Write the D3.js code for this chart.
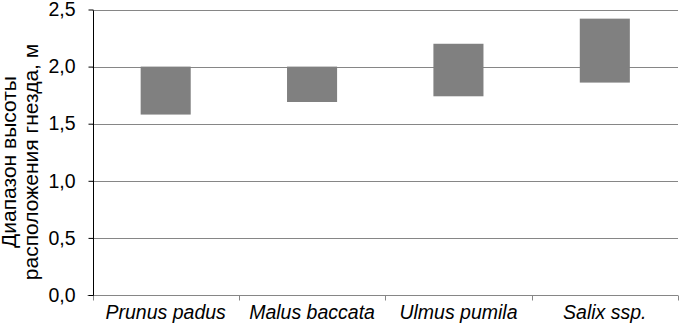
<!DOCTYPE html>
<html>
<head>
<meta charset="utf-8">
<script src="https://cdn.jsdelivr.net/npm/d3@7"></script>
<style>
  html, body { margin: 0; padding: 0; background: #fff; }
  svg { display: block; }
  text { font-family: "Liberation Sans", Arial, sans-serif; }
</style>
</head>
<body>
<svg id="chart" width="679" height="325"></svg>
<script>
const categories = ["Prunus padus", "Malus baccata", "Ulmus pumila", "Salix ssp."];
const lowValues  = [1.58, 1.69, 1.74, 1.86];
const highValues = [2.00, 2.00, 2.20, 2.42];
const yTicks = [0, 0.5, 1.0, 1.5, 2.0, 2.5];
const yTitleLines = ["Диапазон высоты", "расположения гнезда, м"];

const svg = d3.select("#chart");
const mLeft = 92.5, mRight = 678, mTop = 9.5, mBottom = 295;

const x = d3.scaleBand().domain(categories).range([mLeft, mRight]).padding(0);
const y = d3.scaleLinear().domain([0, 2.5]).range([mBottom, mTop]);

const fmt = d => d3.format(".1f")(d).replace(".", ",");

// gridlines
svg.append("g").selectAll("line").data(yTicks.filter(d => d > 0)).join("line")
  .attr("x1", mLeft).attr("x2", mRight)
  .attr("y1", d => Math.round(y(d)) + 0.5).attr("y2", d => Math.round(y(d)) + 0.5)
  .attr("stroke", "#868686").attr("stroke-width", 1);

// bars
const data = categories.map((c, i) => ({c, lo: lowValues[i], hi: highValues[i]}));
const bw = x.bandwidth() * 0.342;
svg.append("g").selectAll("rect").data(data).join("rect")
  .attr("x", d => x(d.c) + x.bandwidth() / 2 - bw / 2)
  .attr("width", bw)
  .attr("y", d => y(d.hi))
  .attr("height", d => y(d.lo) - y(d.hi))
  .attr("fill", "#808080");

// x axis
const xAxis = svg.append("g").attr("transform", `translate(0,${Math.round(mBottom) + 0.5})`);
xAxis.append("line").attr("x1", mLeft - 5).attr("x2", mRight).attr("stroke", "#868686");
const bounds = categories.map(c => x(c)).concat([mRight]);
xAxis.selectAll("line.tk").data(bounds).join("line").attr("class", "tk")
  .attr("x1", d => Math.round(d) + 0.5).attr("x2", d => Math.round(d) + 0.5)
  .attr("y1", 0).attr("y2", 5).attr("stroke", "#868686");
xAxis.selectAll("text").data(categories).join("text")
  .attr("x", d => x(d) + x.bandwidth() / 2)
  .attr("y", 23)
  .attr("text-anchor", "middle")
  .attr("font-size", 19.5)
  .attr("font-style", "italic")
  .attr("fill", "#000")
  .text(d => d);

// y axis
const yAxis = d3.axisLeft(y).tickValues(yTicks).tickFormat(fmt).tickSize(5).tickPadding(13);
const gy = svg.append("g").attr("transform", `translate(${Math.round(mLeft) + 0.5},0)`).call(yAxis);
gy.select(".domain").attr("stroke", "#000").attr("d", `M0,${Math.round(mTop)+0.5}V${Math.round(mBottom)+0.5}`);
gy.selectAll(".tick line").attr("stroke", "#000");
gy.selectAll(".tick text").attr("font-size", 19.5).attr("fill", "#000")
  .attr("font-family", "Liberation Sans, Arial, sans-serif");

// y title
const cy = 162;
svg.append("text")
  .attr("transform", `translate(16,${cy}) rotate(-90)`)
  .attr("text-anchor", "middle").attr("font-size", 21).attr("fill", "#000")
  .text(yTitleLines[0]);
svg.append("text")
  .attr("transform", `translate(37.5,${cy}) rotate(-90)`)
  .attr("text-anchor", "middle").attr("font-size", 21).attr("fill", "#000")
  .text(yTitleLines[1]);
</script>
</body>
</html>
